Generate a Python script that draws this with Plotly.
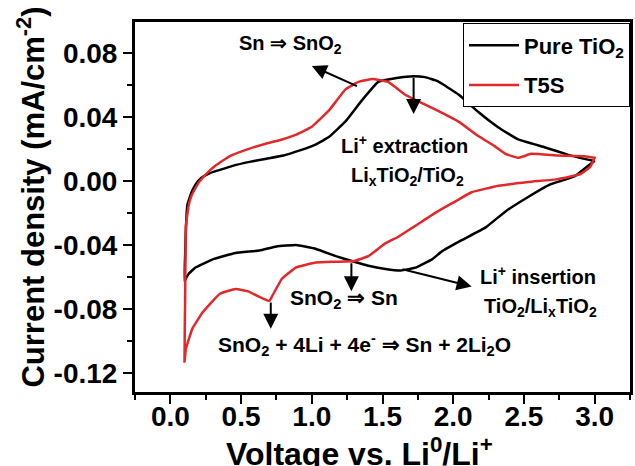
import plotly.graph_objects as go

# Cyclic voltammograms: anodic sweep (0.1 V -> 3.0 V) then cathodic sweep (3.0 V -> 0.1 V)
pure_v_anodic = [0.10, 0.105, 0.11, 0.12, 0.15, 0.18, 0.22, 0.28, 0.35, 0.44, 0.56, 0.68, 0.80, 0.91,
                 1.03, 1.12, 1.24, 1.35, 1.47, 1.60, 1.72, 1.80, 1.89, 2.04, 2.18, 2.32, 2.46, 2.65,
                 2.81, 2.92, 3.00]
pure_i_anodic = [-0.063, -0.045, -0.030, -0.015, -0.007, -0.002, 0.002, 0.005, 0.007, 0.0095, 0.012,
                 0.014, 0.016, 0.019, 0.023, 0.0275, 0.0375, 0.050, 0.062, 0.0645, 0.0656, 0.065,
                 0.0625, 0.054, 0.043, 0.0335, 0.026, 0.021, 0.0165, 0.014, 0.0125]
pure_v_cathodic = [3.00, 2.97, 2.86, 2.69, 2.53, 2.37, 2.23, 2.06, 1.92, 1.85, 1.74, 1.63, 1.52, 1.40,
                   1.30, 1.17, 1.03, 0.89, 0.75, 0.63, 0.46, 0.30, 0.18, 0.13, 0.11, 0.10]
pure_i_cathodic = [0.0125, 0.0106, 0.003, -0.002, -0.010, -0.019, -0.029, -0.037, -0.044, -0.049,
                   -0.054, -0.056, -0.055, -0.053, -0.0505, -0.047, -0.0425, -0.040, -0.041, -0.0435,
                   -0.045, -0.049, -0.054, -0.058, -0.061, -0.063]

t5s_v_anodic = [0.10, 0.105, 0.11, 0.13, 0.15, 0.20, 0.26, 0.32, 0.42, 0.55, 0.68, 0.79, 0.89, 1.00,
                1.12, 1.24, 1.33, 1.43, 1.54, 1.66, 1.75, 1.89, 2.04, 2.18, 2.29, 2.37, 2.46, 2.50,
                2.55, 2.74, 2.93, 3.00]
t5s_i_anodic = [-0.113, -0.070, -0.028, -0.015, -0.009, -0.001, 0.005, 0.0097, 0.0156, 0.020, 0.0235,
                0.026, 0.029, 0.034, 0.044, 0.0575, 0.062, 0.0638, 0.062, 0.054, 0.050, 0.044, 0.037,
                0.028, 0.022, 0.017, 0.0145, 0.0155, 0.017, 0.016, 0.0155, 0.0145]
t5s_v_cathodic = [3.00, 2.97, 2.90, 2.74, 2.53, 2.32, 2.13, 2.01, 1.89, 1.75, 1.68, 1.61, 1.52, 1.40,
                  1.30, 1.17, 1.03, 0.89, 0.79, 0.72, 0.70, 0.63, 0.55, 0.46, 0.35, 0.23, 0.155,
                  0.11, 0.10]
t5s_i_cathodic = [0.0145, 0.009, 0.0044, 0.0012, -0.0006, -0.003, -0.007, -0.013, -0.019, -0.027,
                  -0.031, -0.035, -0.039, -0.047, -0.050, -0.0505, -0.051, -0.054, -0.061, -0.072,
                  -0.075, -0.0725, -0.069, -0.0675, -0.0705, -0.082, -0.0925, -0.105, -0.113]

series_names = ["Pure TiO<sub>2</sub>", "T5S"]

x_tickvals = [0.0, 0.5, 1.0, 1.5, 2.0, 2.5, 3.0]
x_ticktext = ["0.0", "0.5", "1.0", "1.5", "2.0", "2.5", "3.0"]
y_tickvals = [-0.12, -0.08, -0.04, 0.00, 0.04, 0.08]
y_ticktext = ["-0.12", "-0.08", "-0.04", "0.00", "0.04", "0.08"]

FONT = "Arial, 'Liberation Sans', sans-serif"
BLACK = "#000000"
RED = "#e3282a"

fig = go.Figure()
fig.add_trace(go.Scatter(
    x=pure_v_anodic + pure_v_cathodic, y=pure_i_anodic + pure_i_cathodic,
    mode="lines", name=series_names[0], legendgroup="a",
    line=dict(color=BLACK, width=2.5, shape="spline", smoothing=0.3),
))
fig.add_trace(go.Scatter(
    x=t5s_v_anodic + t5s_v_cathodic, y=t5s_i_anodic + t5s_i_cathodic,
    mode="lines", name=series_names[1], legendgroup="b",
    line=dict(color=RED, width=2.5, shape="spline", smoothing=0.3),
))

axis_common = dict(
    showline=True, linecolor=BLACK, linewidth=3, mirror=True,
    ticks="outside", ticklen=9, tickwidth=2, tickcolor=BLACK,
    showgrid=False, zeroline=False,
    tickfont=dict(family=FONT, size=28, color=BLACK, weight="bold"),
)

fig.update_xaxes(
    range=[-0.25, 3.25], tickmode="array", tickvals=x_tickvals, ticktext=x_ticktext,
    ticklabelstandoff=-12,
    minor=dict(tickmode="linear", tick0=0.25, dtick=0.5, ticks="outside", ticklen=5,
               tickwidth=2, tickcolor=BLACK),
    **axis_common,
)
fig.update_yaxes(
    range=[-0.132, 0.0995], tickmode="array", tickvals=y_tickvals, ticktext=y_ticktext,
    minor=dict(tickmode="linear", tick0=0.02, dtick=0.04, ticks="outside", ticklen=5,
               tickwidth=2, tickcolor=BLACK),
    **axis_common,
)

# reaction arrows (head at x/y, tail at ax/ay)
arrows = [
    ((1.00, 0.072), (1.33, 0.059)),
    ((1.72, 0.042), (1.72, 0.0656)),
    ((1.28, -0.069), (1.28, -0.0505)),
    ((2.13, -0.066), (1.63, -0.055)),
    ((0.71, -0.0925), (0.71, -0.075)),
]
for (hx, hy), (tx, ty) in arrows:
    fig.add_annotation(
        x=hx, y=hy, ax=tx, ay=ty, xref="x", yref="y", axref="x", ayref="y",
        text="", showarrow=True, arrowhead=2, arrowsize=1.5, arrowwidth=2,
        arrowcolor=BLACK, standoff=0, startstandoff=0,
    )

label_font = dict(family=FONT, size=20, color=BLACK, weight="bold")
labels = [
    ("Sn \u21d2 SnO<sub>2</sub>", 0.85, 0.0856, 20),
    ("Li<sup>+</sup> extraction", 1.655, 0.023, 20),
    ("Li<sub>x</sub>TiO<sub>2</sub>/TiO<sub>2</sub>", 1.68, 0.003, 20),
    ("Li<sup>+</sup> insertion", 2.60, -0.059, 20),
    ("TiO<sub>2</sub>/Li<sub>x</sub>TiO<sub>2</sub>", 2.62, -0.079, 20),
    ("SnO<sub>2</sub> \u21d2 Sn", 1.23, -0.074, 21),
    ("SnO<sub>2</sub> + 4Li + 4e<sup>-</sup> \u21d2 Sn + 2Li<sub>2</sub>O", 1.37, -0.102, 21),
]
for text, lx, ly, fs in labels:
    fig.add_annotation(x=lx, y=ly, xref="x", yref="y", text=text, showarrow=False,
                       font=dict(label_font, size=fs), xanchor="center", yanchor="middle")

# axis titles
fig.add_annotation(
    text="Voltage vs. Li<sup>0</sup>/Li<sup>+</sup>", xref="paper", yref="paper",
    x=0.454, y=-0.2, xanchor="center", yanchor="bottom", yshift=-8, showarrow=False,
    font=dict(family=FONT, size=32, color=BLACK, weight="bold"),
)
fig.add_annotation(
    text="Current density (mA/cm<sup>-2</sup>)", xref="paper", yref="paper",
    x=-0.211, y=0.527, xanchor="center", yanchor="middle", textangle=-90, showarrow=False,
    font=dict(family=FONT, size=31, color=BLACK, weight="bold"),
)

fig.update_layout(
    width=635, height=466,
    margin=dict(l=135, r=2, t=22, b=74),
    paper_bgcolor="white", plot_bgcolor="white",
    showlegend=True,
    legend=dict(
        x=1, xanchor="right", y=0.996, yanchor="top",
        bgcolor="white", bordercolor=BLACK, borderwidth=1,
        font=dict(family=FONT, size=22, color=BLACK, weight="bold"),
        traceorder="grouped", tracegroupgap=8, itemwidth=50,
    ),
)

fig.write_html("out.html")
